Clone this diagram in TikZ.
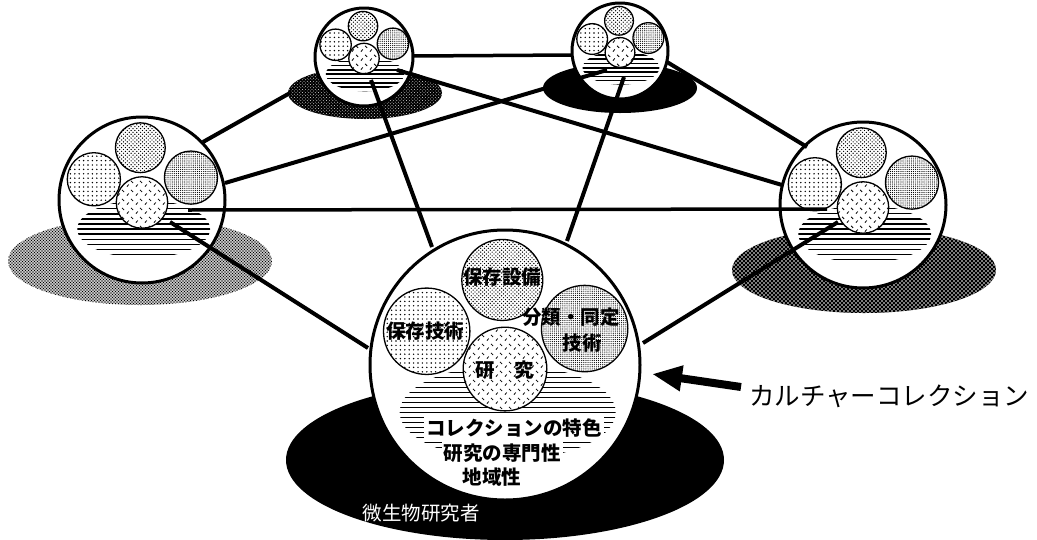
\documentclass[tikz,border=0pt]{standalone}
\usepackage{fontspec}
\newfontfamily\jp{Noto Sans CJK JP}
\usetikzlibrary{patterns,arrows.meta}

\pgfdeclarepatternformonly{sqdots}{\pgfqpoint{-1pt}{-1pt}}{\pgfqpoint{1pt}{1pt}}{\pgfqpoint{4.4pt}{4.4pt}}{%
  \pgfpathcircle{\pgfqpoint{0pt}{0pt}}{0.8pt}\pgfusepath{fill}}
\pgfdeclarepatternformonly{offdots}{\pgfqpoint{-1pt}{-1pt}}{\pgfqpoint{3pt}{3pt}}{\pgfqpoint{3.8pt}{3.8pt}}{%
  \pgfpathcircle{\pgfqpoint{0pt}{0pt}}{0.7pt}\pgfpathcircle{\pgfqpoint{1.9pt}{1.9pt}}{0.7pt}\pgfusepath{fill}}
\pgfdeclarepatternformonly{finedots}{\pgfqpoint{-0.7pt}{-0.7pt}}{\pgfqpoint{0.7pt}{0.7pt}}{\pgfqpoint{2.1pt}{2.1pt}}{%
  \pgfpathcircle{\pgfqpoint{0pt}{0pt}}{0.6pt}\pgfusepath{fill}}
\pgfdeclarepatternformonly{ticks}{\pgfqpoint{0pt}{0pt}}{\pgfqpoint{9pt}{9pt}}{\pgfqpoint{9pt}{9pt}}{%
  \pgfsetlinewidth{0.9pt}%
  \pgfpathmoveto{\pgfqpoint{1pt}{1.5pt}}\pgfpathlineto{\pgfqpoint{3pt}{3.8pt}}%
  \pgfpathmoveto{\pgfqpoint{5.5pt}{7.8pt}}\pgfpathlineto{\pgfqpoint{7.8pt}{5.5pt}}%
  \pgfusepath{stroke}}
\pgfdeclarepatternformonly{stip}{\pgfqpoint{-1pt}{-1pt}}{\pgfqpoint{2.5pt}{2.5pt}}{\pgfqpoint{3pt}{3pt}}{%
  \pgfpathcircle{\pgfqpoint{0pt}{0pt}}{0.8pt}\pgfpathcircle{\pgfqpoint{1.5pt}{1.5pt}}{0.8pt}\pgfusepath{fill}}
\pgfdeclarepatternformonly{wspk}{\pgfqpoint{-1pt}{-1pt}}{\pgfqpoint{3pt}{3pt}}{\pgfqpoint{4pt}{4pt}}{%
  \pgfpathcircle{\pgfqpoint{0pt}{0pt}}{0.9pt}\pgfpathcircle{\pgfqpoint{2pt}{2pt}}{0.9pt}\pgfusepath{fill}}
\pgfdeclarepatternformonly{wfine}{\pgfqpoint{-1pt}{-1pt}}{\pgfqpoint{2.5pt}{2.5pt}}{\pgfqpoint{3.2pt}{3.2pt}}{%
  \pgfpathcircle{\pgfqpoint{0pt}{0pt}}{0.45pt}\pgfpathcircle{\pgfqpoint{1.6pt}{1.6pt}}{0.45pt}\pgfusepath{fill}}

\tikzset{
  outer/.style={circle, draw, line width=3pt, fill=white, inner sep=0pt},
  inner/.style={draw, line width=1.3pt, preaction={fill=white}},
  link/.style={line width=4pt},
  hline/.style={line width=3.5pt},
  lbl/.style={font=\jp\bfseries\fontsize{19.5}{21}\selectfont, inner sep=1pt},
}

% #1 cx, #2 cy, #3 radius, #4 name, #5 hatch spacing
\newcommand\culture[5]{%
  \node[outer, minimum size={2*#3}] (#4) at (#1,#2) {};
  \begin{scope}
    \clip ({#1+0.02*#3},{#2+0.35*#3}) ellipse[x radius={0.8*#3}, y radius={0.35*#3}];
    \foreach \k in {-12,...,12}
      \draw[line width=1.5pt] ({#1-#3},{#2+0.35*#3+\k*#5}) -- ({#1+#3},{#2+0.35*#3+\k*#5});
  \end{scope}
  \draw[inner, pattern=offdots] ({#1-0.02*#3},{#2-0.63*#3}) circle[radius={0.30*#3}];
  \draw[inner, pattern=sqdots] ({#1-0.58*#3},{#2-0.25*#3}) circle[radius={0.32*#3}];
  \draw[inner, pattern=finedots] ({#1+0.59*#3},{#2-0.27*#3}) circle[radius={0.32*#3}];
  \draw[inner, pattern=ticks] ({#1},{#2+0.03*#3}) circle[radius={0.31*#3}];
}

\begin{document}
\begin{tikzpicture}[x=1pt,y=-1pt]
\useasboundingbox (0,0) rectangle (1037,539);

% shadows (groups)
\fill[pattern=stip] (140,261) ellipse[x radius=132, y radius=44];
\fill[black] (864,270) ellipse[x radius=132, y radius=43];
\fill[pattern=wspk, pattern color=white] (864,270) ellipse[x radius=132, y radius=43];
\fill[black] (365,93) ellipse[x radius=77, y radius=26];
\fill[pattern=wfine, pattern color=white] (365,93) ellipse[x radius=77, y radius=26];
\fill[black] (620,88) ellipse[x radius=77, y radius=25];
\fill[black] (505,460) ellipse[x radius=219, y radius=80];

% small culture collections
\culture{142}{200}{83}{L}{5.1}
\culture{863}{205}{83}{R}{5.1}
\culture{364}{57}{49}{TL}{4.3}
\culture{620}{51}{48}{TR}{4.3}

% connector end points
\coordinate (tlA) at (371,80);
\coordinate (tlB) at (397,70);
\coordinate (tlE) at (413,56);
\coordinate (tlS) at (290,93);
\coordinate (trA) at (624,77);
\coordinate (trB) at (607,70);
\coordinate (trW) at (572,55);
\coordinate (trE) at (667,62);
\coordinate (lA) at (170,222);
\coordinate (lB) at (188,210);
\coordinate (lN) at (203,142);
\coordinate (lE) at (225,183);
\coordinate (rA) at (838,222);
\coordinate (rB) at (827,209);
\coordinate (rN) at (807,147);
\coordinate (rW) at (782,185);
\coordinate (mTL) at (432,247);
\coordinate (mTR) at (567,241);
\coordinate (mL) at (368,348);
\coordinate (mR) at (643,343);

\draw[hline] (tlE) -- (trW);
\draw[hline] (lB) -- (rB);
\draw[link] (lN) -- (tlS);
\draw[link] (trE) -- (rN);
\draw[link] (tlB) -- (rW);
\draw[link] (trB) -- (lE);
\draw[link] (tlA) -- (mTL);
\draw[link] (trA) -- (mTR);
\draw[link] (lA) -- (mL);
\draw[link] (rA) -- (mR);

% main culture collection
\culture{505}{365}{135}{M}{5}

% labels in the main circle
\node[lbl] (t1) at (502,277) {保存設備};
\node[lbl] (t2) at (425,331) {保存技術};
\node[lbl] (t3) at (571,317) {分類・同定};
\node[lbl] (t4) at (582,343) {技術};
\node[lbl] (t5) at (505,370) {研　究};
\node[lbl, fill=white, inner sep=2pt] (t6) at (514,428) {コレクションの特色};
\node[lbl, fill=white, inner sep=2pt] (t7) at (502,453) {研究の専門性};
\node[lbl] (t8) at (492,477) {地域性};
\node[font=\jp\fontsize{19.5}{21}\selectfont, text=white] (t9) at (421,513) {微生物研究者};

% arrow and caption
\node[font=\jp\fontsize{25.5}{27}\selectfont, anchor=west, inner sep=0pt] (cap) at (749,396) {カルチャーコレクション};
\coordinate (arT) at (741,387);
\coordinate (arH) at (652,374);
\draw[line width=8pt, -{Triangle[length=30pt, width=24pt]}] (arT) -- (arH);
\end{tikzpicture}
\end{document}
